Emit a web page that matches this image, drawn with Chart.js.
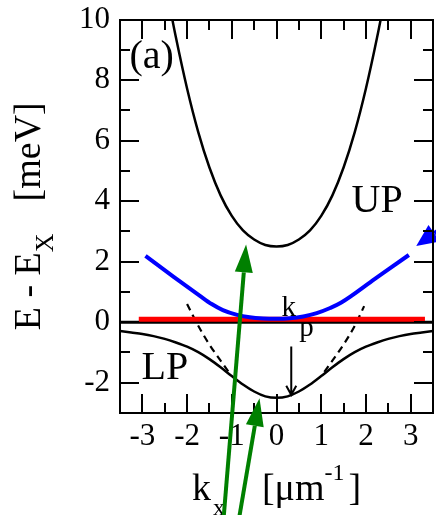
<!DOCTYPE html>
<html>
<head>
<meta charset="utf-8">
<title>polariton dispersion</title>
<script src="https://cdn.jsdelivr.net/npm/chart.js@4.4.1/dist/chart.umd.min.js"></script>
<style>
  html, body { margin: 0; padding: 0; background: #fff; }
  #wrap { width: 436px; height: 515px; }
</style>
</head>
<body>
<div id="wrap"><canvas id="c"></canvas></div>
<script>
// upper polariton branch
const kUP = [-2.5, -2.25, -2, -1.75, -1.5, -1.25, -1, -0.75, -0.5, -0.25, 0, 0.25, 0.5, 0.75, 1, 1.25, 1.5, 1.75, 2, 2.25, 2.5]
const eUP = [11.3, 9.41, 7.72, 6.28, 5.11, 4.19, 3.51, 3.03, 2.73, 2.55, 2.5, 2.55, 2.73, 3.03, 3.51, 4.19, 5.11, 6.28, 7.72, 9.41, 11.3]

// lower polariton branch
const kLP = [-3.5, -3.25, -3, -2.75, -2.5, -2.25, -2, -1.75, -1.5, -1.25, -1, -0.75, -0.5, -0.25, 0,
  0.25, 0.5, 0.75, 1, 1.25, 1.5, 1.75, 2, 2.25, 2.5, 2.75, 3, 3.25, 3.5]
const eLP = [-0.29, -0.34, -0.39, -0.46, -0.55, -0.67, -0.81, -0.99, -1.22, -1.49, -1.78, -2.06, -2.29, -2.45, -2.5,
  -2.45, -2.29, -2.06, -1.78, -1.49, -1.22, -0.99, -0.81, -0.67, -0.55, -0.46, -0.39, -0.34, -0.29]

// dashed parabola pieces
const kDashL = [-2.0, -1.75, -1.5, -1.25, -1.07]
const eDashL = [0.6, -0.12, -0.74, -1.27, -1.64]
const kDashR = [1.07, 1.25, 1.5, 1.75, 1.96]
const eDashR = [-1.64, -1.27, -0.74, -0.12, 0.53]

// blue curve
const kBlue = [-2.93, -2.3, -1.72, -1.45, -1.2, -0.9, -0.6, -0.3, 0, 0.3, 0.6, 0.9, 1.2, 1.44, 2.2, 2.96]
const eBlue = [2.19, 1.5, 0.88, 0.6, 0.4, 0.25, 0.16, 0.12, 0.11, 0.13, 0.19, 0.3, 0.47, 0.64, 1.43, 2.22]

// red flat line and zero line
const kRed = [-3.08, 3.32]
const eRed = [0.1, 0.1]
const kZero = [-3.5, 3.5]
const eZero = [0, 0]

// axis ticks
const xTicks = [-3, -2, -1, 0, 1, 2, 3]
const xMinor = [-2.5, -1.5, -0.5, 0.5, 1.5, 2.5]
const yTicks = [-2, 0, 2, 4, 6, 8, 10]
const yMinor = [-1, 1, 3, 5, 7, 9]

// annotations (data coordinates)
const labels = ['(a)', 'UP', 'LP']
const labelK = [-3.29, 1.68, -3.02]
const labelE = [8.41, 3.64, -1.89]
const kpArrow = [0.33, -0.8, -2.4]
const blueTip = [3.125, 2.52]
const greenFrom = [[-1.18, -6.42], [-0.83, -6.42]]
const greenTo = [[-0.68, 2.57], [-0.38, -2.51]]

const serif = '"Liberation Serif", "Times New Roman", serif'
const pts = (ks, es) => ks.map((k, i) => ({ x: k, y: es[i] }))

const px = (chart, x, y) => [chart.scales.x.getPixelForValue(x), chart.scales.y.getPixelForValue(y)]

const arrow = (ctx, x0, y0, x1, y1, len, half, color, width) => {
    const a = Math.atan2(y1 - y0, x1 - x0)
    const bx = x1 - len * Math.cos(a), by = y1 - len * Math.sin(a)
    ctx.strokeStyle = color
    ctx.lineWidth = width
    ctx.beginPath()
    ctx.moveTo(x0, y0)
    ctx.lineTo(bx, by)
    ctx.stroke()
    ctx.fillStyle = color
    ctx.beginPath()
    ctx.moveTo(x1, y1)
    ctx.lineTo(bx + half * Math.sin(a), by - half * Math.cos(a))
    ctx.lineTo(bx - half * Math.sin(a), by + half * Math.cos(a))
    ctx.closePath()
    ctx.fill()
}

// box around the plot with inward major/minor ticks
const drawFrame = (chart) => {
    const ctx = chart.ctx
    const a = chart.chartArea
    const L = Math.round(a.left), R = Math.round(a.right)
    const T = Math.round(a.top), B = Math.round(a.bottom)
    ctx.save()
    ctx.fillStyle = '#000000'
    ctx.fillRect(L - 1, T - 1, R - L + 2, 2)
    ctx.fillRect(L - 1, B - 1, R - L + 2, 2)
    ctx.fillRect(L - 1, T - 1, 2, B - T + 2)
    ctx.fillRect(R - 1, T - 1, 2, B - T + 2)
    const barX = (v, len) => {
        const x = Math.round(px(chart, v, 0)[0])
        ctx.fillRect(x - 1, B - len, 2, len)
        ctx.fillRect(x - 1, T, 2, len)
    }
    const barY = (v, len) => {
        const y = Math.round(px(chart, 0, v)[1])
        ctx.fillRect(L, y - 1, len, 2)
        ctx.fillRect(R - len, y - 1, len, 2)
    }
    xTicks.forEach(v => barX(v, 19))
    xMinor.forEach(v => barX(v, 10))
    yTicks.forEach(v => barY(v, 19))
    yMinor.forEach(v => barY(v, 10))
    ctx.restore()
}

const decor = {
    id: 'decor',
    afterDraw(chart) {
        const ctx = chart.ctx
        const a = chart.chartArea
        const ys = chart.scales.y
        ctx.save()
        ctx.setLineDash([])

        // text labels
        ctx.fillStyle = '#000'
        ctx.strokeStyle = '#000'
        ctx.textBaseline = 'alphabetic'
        ctx.textAlign = 'left'
        ctx.font = '40px ' + serif
        labels.forEach((t, i) => {
            const [x, y] = px(chart, labelK[i], labelE[i])
            ctx.fillText(t, x, y)
        })
        // k_p label
        ctx.font = '29px ' + serif
        let [kx, ky] = px(chart, 0.11, 0.2)
        ctx.fillText('k', kx, ky)
        ;[kx, ky] = px(chart, 0.51, -0.46)
        ctx.fillText('p', kx, ky)

        // k_p arrow
        const [ax, ay0] = px(chart, kpArrow[0], kpArrow[1])
        const ay1 = ys.getPixelForValue(kpArrow[2])
        ctx.lineWidth = 2
        ctx.beginPath()
        ctx.moveTo(ax, ay0); ctx.lineTo(ax, ay1)
        ctx.moveTo(ax - 5, ay1 - 9); ctx.lineTo(ax, ay1); ctx.lineTo(ax + 5, ay1 - 9)
        ctx.stroke()

        // x axis title
        ctx.font = '38px ' + serif
        const cx = (a.left + a.right) / 2
        const wk = ctx.measureText('k').width
        const wb = ctx.measureText('[\u03bcm').width
        const wc = ctx.measureText(']').width
        ctx.font = '24px ' + serif
        const wx = ctx.measureText('x').width
        const ws = ctx.measureText('-1').width
        const gap = 37
        const total = wk + wx + 2 + gap + wb + ws + 4 + wc
        let x0 = cx - total / 2
        const base = 500
        ctx.font = '38px ' + serif
        ctx.fillText('k', x0, base)
        x0 += wk + 2
        ctx.font = '24px ' + serif
        ctx.fillText('x', x0, base + 15)
        x0 += wx + gap
        ctx.font = '38px ' + serif
        ctx.fillText('[\u03bcm', x0, base)
        x0 += wb
        ctx.font = '24px ' + serif
        ctx.fillText('-1', x0, base - 20)
        x0 += ws + 4
        ctx.font = '38px ' + serif
        ctx.fillText(']', x0, base)

        // y axis title (rotated)
        ctx.save()
        const cy = (a.top + a.bottom) / 2
        ctx.translate(40, cy)
        ctx.rotate(-Math.PI / 2)
        ctx.font = '38px ' + serif
        const w1 = ctx.measureText('E - E').width
        const w3 = ctx.measureText('[meV]').width
        ctx.font = '26px ' + serif
        const w2 = ctx.measureText('X').width
        const g2 = 32
        const tot = w1 + w2 + g2 + w3
        let s = -tot / 2
        ctx.font = '38px ' + serif
        ctx.fillText('E - E', s, 0)
        s += w1
        ctx.font = '26px ' + serif
        ctx.fillText('X', s, 13)
        s += w2 + g2
        ctx.font = '38px ' + serif
        ctx.fillText('[meV]', s, 0)
        ctx.restore()

        // blue arrow head pointing back at the blue curve end
        const n = kBlue.length
        const [b0x, b0y] = px(chart, kBlue[n - 2], eBlue[n - 2])
        const [b1x, b1y] = px(chart, kBlue[n - 1], eBlue[n - 1])
        const d = Math.hypot(b1x - b0x, b1y - b0y)
        const [tx, ty] = px(chart, blueTip[0], blueTip[1])
        arrow(ctx, tx + 60 * (b1x - b0x) / d, ty + 60 * (b1y - b0y) / d, tx, ty, 22, 10, '#0000ff', 4)

        drawFrame(chart)

        // green arrows on top of everything
        greenFrom.forEach((f, i) => {
            const [x0g, y0g] = px(chart, f[0], f[1])
            const [x1g, y1g] = px(chart, greenTo[i][0], greenTo[i][1])
            arrow(ctx, x0g, y0g, x1g, y1g, 28, 9, '#008000', 4)
        })
        ctx.restore()
    }
}

const line = (data, color, width, extra) => Object.assign({
    data, borderColor: color, borderWidth: width, pointRadius: 0, fill: false,
    cubicInterpolationMode: 'monotone'
}, extra || {})

new Chart(document.getElementById('c'), {
    type: 'line',
    data: {
        datasets: [
            line(pts(kBlue, eBlue), '#0000ff', 4, { order: 0 }),
            line(pts(kRed, eRed), '#ff0000', 5, { order: 1 }),
            line(pts(kZero, eZero), '#000', 3, { order: 2 }),
            line(pts(kUP, eUP), '#000', 2.5, { order: 3 }),
            line(pts(kLP, eLP), '#000', 2.5, { order: 3 }),
            line(pts(kDashL, eDashL), '#000', 2.2, { order: 4, borderDash: [7, 5] }),
            line(pts(kDashR, eDashR), '#000', 2.2, { order: 4, borderDash: [7, 5] })
        ]
    },
    options: {
        responsive: true,
        maintainAspectRatio: false,
        animation: false,
        events: [],
        layout: { padding: { top: 19.5, right: 3, left: 0, bottom: 0 } },
        plugins: { legend: { display: false }, tooltip: { enabled: false } },
        scales: {
            x: {
                type: 'linear', min: -3.5, max: 3.5,
                grid: { display: false, drawTicks: false },
                border: { display: false },
                afterBuildTicks: s => { s.ticks = xTicks.map(v => ({ value: v })) },
                afterFit: s => { s.height = 102 },
                ticks: { color: '#000', padding: 5, maxRotation: 0, autoSkip: false,
                    font: { family: serif, size: 31 }, callback: v => String(v) }
            },
            y: {
                type: 'linear', min: -3, max: 10,
                grid: { display: false, drawTicks: false },
                border: { display: false },
                afterBuildTicks: s => { s.ticks = yTicks.map(v => ({ value: v })) },
                afterFit: s => { s.width = 120; s.paddingTop = 0 },
                ticks: { color: '#000', padding: 10, autoSkip: false,
                    font: { family: serif, size: 31 }, callback: v => String(v) }
            }
        }
    },
    plugins: [decor]
})
</script>
</body>
</html>
